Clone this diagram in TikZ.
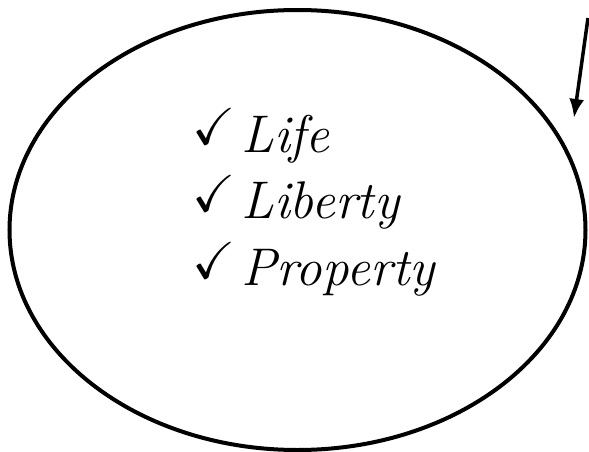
\documentclass[tikz,border=0pt]{standalone}
\usepackage{amssymb}
\usetikzlibrary{arrows.meta,shapes.geometric}
\tikzset{
  listitem/.style={anchor=base west,inner sep=0pt,font=\fontsize{53}{53}\selectfont\itshape},
  bigring/.style={draw,ellipse,line width=4pt,inner sep=0pt,minimum width=576pt,minimum height=440pt},
}
\newcommand{\tick}{\raisebox{7pt}{\scalebox{5.2}{\fontsize{10}{10}\selectfont$\checkmark$}}\hspace{6pt}}
\begin{document}
\begin{tikzpicture}[x=1pt,y=-1pt]
			\useasboundingbox (0,0) rectangle (589,452);
			\node[bigring] (ring) at (297.5,230) {}; % the big oval
			\node[listitem] (life) at (192,152) {\tick Life};
			\node[listitem] (liberty) at (192,218) {\tick Liberty};
			\node[listitem] (property) at (192,285) {\tick Property};
			\coordinate (arrtail) at (588,18);
			\coordinate (arrtip) at (574,118);
			\draw[-{Latex[length=19pt,width=15pt]},line width=3.5pt] (arrtail) -- (arrtip);
\end{tikzpicture}
\end{document}
